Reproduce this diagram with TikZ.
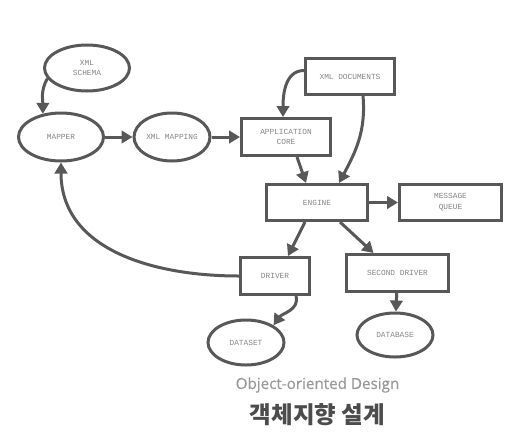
\documentclass[tikz,border=0pt]{standalone}
\usepackage{fontspec}
\setmonofont{Liberation Mono}
\newfontfamily\subfont[FakeBold=0.6]{Open Sans}
\newfontfamily\krfont{Noto Sans CJK KR}
\usetikzlibrary{shapes.geometric,arrows.meta}
\definecolor{linec}{HTML}{585858}
\definecolor{txtc}{HTML}{858585}
\begin{document}
\begin{tikzpicture}[x=1pt,y=-1pt,
  every node/.style={font=\ttfamily\fontsize{7.8}{10.8}\selectfont, text=txtc, align=center},
  ell/.style={ellipse, draw=linec, line width=3pt, inner sep=0pt},
  box/.style={rectangle, draw=linec, line width=3pt, inner sep=0pt},
  arr/.style={draw=linec, line width=3pt, -{Triangle[length=11pt,width=12.5pt]}}]
\useasboundingbox (0,0) rectangle (532,445);
\node[ell, minimum width=85pt, minimum height=46pt] (schema) at (87,68) {XML\\SCHEMA};
\node[ell, minimum width=85pt, minimum height=48pt] (mapper) at (61,137) {MAPPER};
\node[ell, minimum width=76pt, minimum height=48pt] (xmlmap) at (172,137) {XML MAPPING};
\node[box, minimum width=89pt, minimum height=37pt] (core) at (286,137) {APPLICATION\\CORE};
\node[box, minimum width=89pt, minimum height=36pt] (docs) at (350,76.5) {XML DOCUMENTS};
\node[box, minimum width=101pt, minimum height=36pt] (engine) at (317,202.5) {ENGINE};
\node[box, minimum width=102pt, minimum height=36pt] (queue) at (450.5,202.5) {MESSAGE\\QUEUE};
\node[box, minimum width=69pt, minimum height=37pt] (driver) at (275,276) {DRIVER};
\node[box, minimum width=102pt, minimum height=37pt] (second) at (397.5,273) {SECOND DRIVER};
\node[ell, minimum width=76pt, minimum height=45pt] (dataset) at (246,342.5) {DATASET};
\node[ell, minimum width=76pt, minimum height=44pt] (database) at (395,335) {DATABASE};
\node[font=\subfont\fontsize{15.2}{17}\selectfont, text=black!40] (sub) at (317.5,385) {Object-oriented Design};
\node[font=\krfont\bfseries\fontsize{23.5}{26}\selectfont, text=black!70] (title) at (317.5,415) {객체지향 설계};
% connectors
\draw[arr] (schema.195) to[out=240,in=90] (mapper.128);
\draw[arr] (mapper) -- (xmlmap);
\draw[arr] (xmlmap) -- (core);
\draw[arr] ([yshift=6pt]docs.west) to[out=180,in=90] ([xshift=-3pt]core.north);
\draw[arr] ([xshift=13pt]docs.south) to[out=-85,in=62] ([xshift=22pt]engine.north);
\draw[arr] ([xshift=11pt]core.south) -- ([xshift=-11pt]engine.north);
\draw[arr] (engine) -- (queue);
\draw[arr] ([xshift=-12pt]engine.south) -- ([xshift=13pt]driver.north);
\draw[arr] ([xshift=23pt]engine.south) -- ([xshift=-24pt]second.north);
\draw[arr] ([xshift=21pt]driver.south) to[out=-75,in=55] (dataset.32);
\draw[arr] (second) -- (database);
\draw[arr] (driver.west) to[out=180,in=-90,looseness=1.05] (mapper.south);
\end{tikzpicture}
\end{document}
